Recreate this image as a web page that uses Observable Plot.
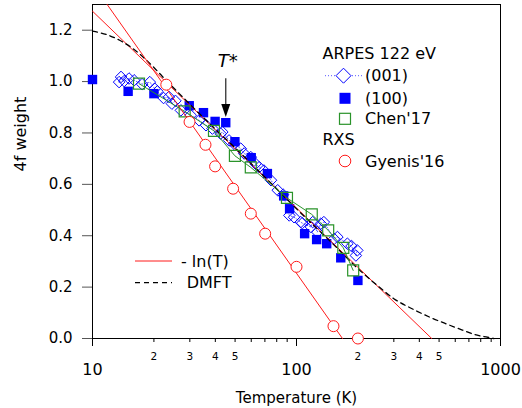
<!DOCTYPE html>
<html><head><meta charset="utf-8">
<script src="https://cdn.jsdelivr.net/npm/d3@7"></script>
<script src="https://cdn.jsdelivr.net/npm/@observablehq/plot@0.6"></script>
<style>body{margin:0;background:#fff;} svg{display:block}</style>
</head><body><div id="chart"></div>
<script>
const FONT = "DejaVu Sans, Verdana, sans-serif";

// ARPES 122 eV (001) – open diamonds
const a001T = [13.5,13.8,14.3,15.1,16.0,17.5,19.1,20.2,20.8,22.3,23.7,24.5,25.5,27.1,30.3,33.3,36,38.7,42.5,43.3,46.7,49.4,53.3,55.4,59.7,63,65.6,69.2,75,80.9,86,92.2,97.3,104.9,106.7,117.7,120,126.5,131.6,136.2,152.9,158.7,177.6,186,195.5,198.6];
const a001W = [0.998,1.018,1.002,1.012,1.005,0.990,0.998,0.972,0.962,0.936,0.940,0.914,0.925,0.888,0.869,0.849,0.830,0.817,0.797,0.804,0.771,0.758,0.739,0.720,0.706,0.680,0.667,0.654,0.616,0.577,0.560,0.479,0.472,0.453,0.449,0.434,0.453,0.414,0.447,0.453,0.388,0.395,0.369,0.360,0.323,0.343];
// ARPES 122 eV (100) – filled squares
const a100T = [10.0,14.95,20.0,29.8,35.0,39.9,45.0,49.9,60.0,72.0,86.5,92.5,109.6,125.5,140.6,164.8,200];
const a100W = [1.008,0.962,0.953,0.906,0.879,0.845,0.840,0.766,0.704,0.642,0.555,0.505,0.408,0.385,0.369,0.314,0.226];
// Chen'17 – open green squares
const chenT = [16.9,28.3,39.4,49.9,59.7,89.8,118.8,143,169.6,189.6];
const chenW = [0.992,0.884,0.808,0.711,0.666,0.547,0.483,0.421,0.353,0.265];
// RXS Gyenis'16 – open red circles
const gyeT = [23.0,29.9,35.8,39.9,48.9,59.7,70.2,100,151.8,200];
const gyeW = [0.988,0.843,0.754,0.670,0.583,0.486,0.408,0.279,0.048,0.0];
// -ln(T) fit lines (end points)
const lnFitAT = [10, 460];   const lnFitAW = [1.274, 0];
const lnFitBT = [11.8, 168]; const lnFitBW = [1.3, 0];
// DMFT curve
const dmftT = [10,12,14,16,18,20,22,25,30,40,50,70,100,150,200,250,300,377,450,550,650,742,850,927];
const dmftW = [1.196,1.18,1.155,1.125,1.09,1.055,1.02,0.975,0.912,0.815,0.742,0.628,0.505,0.37,0.272,0.205,0.155,0.112,0.083,0.055,0.033,0.016,0.006,0.0];
// T* annotation
const tStar = [{T: 45, from: 1.013, to: 0.862, labelT: 46, labelW: 1.055, text: "T*"}];

// ticks
const yTicks = [0, 0.2, 0.4, 0.6, 0.8, 1.0, 1.2];
const yTickLabels = ["0.0","0.2","0.4","0.6","0.8","1.0","1.2"];
const xMajorTicks = [10, 100, 1000];
const xMajorLabels = ["10","100","1000"];
const xMinorTicks = [20,30,40,50,60,70,80,90,200,300,400,500,600,700,800,900];
const xMinorLabels = ["2","3","4","5","6","7","","","2","3","4","5","6","7","",""];

const rows = (T, W) => T.map((t, i) => ({T: t, w: W[i]}));
const yMap = new Map(yTicks.map((t, i) => [t, yTickLabels[i]]));
const xMajMap = new Map(xMajorTicks.map((t, i) => [t, xMajorLabels[i]]));
const xMinMap = new Map(xMinorTicks.map((t, i) => [t, xMinorLabels[i]]));

const arrowHead = {draw(ctx) { ctx.moveTo(0, 0); ctx.lineTo(-4.5, -13); ctx.lineTo(4.5, -13); ctx.closePath(); }};

const BLUE = "#0000ff", GREEN = "#2a932a", RED = "#ff1a1a";

const svg = Plot.plot({
  width: 522, height: 408,
  marginLeft: 92, marginRight: 22, marginTop: 4, marginBottom: 70,
  style: {fontFamily: FONT, background: "white", overflow: "visible"},
  x: {type: "log", domain: [10, 1000], axis: null},
  y: {domain: [0, 1.3], axis: null},
  marks: [
    Plot.axisY({ticks: yTicks, tickFormat: d => yMap.get(d), tickSize: 10, tickPadding: 10, fontSize: 15, stroke: "#555", label: null}),
    Plot.axisX({ticks: xMajorTicks, tickFormat: d => xMajMap.get(d), tickSize: 8, tickPadding: 17, fontSize: 16, label: null}),
    Plot.axisX({ticks: xMinorTicks, tickFormat: d => xMinMap.get(d), tickSize: 4, tickPadding: 10, fontSize: 10.5, label: null}),
    Plot.frame({stroke: "black"}),
    Plot.line(rows(a001T, a001W), {x: "T", y: "w", stroke: "#5555ff", strokeWidth: 1, strokeDasharray: "1,2"}),
    Plot.dot(rows(a100T, a100W), {x: "T", y: "w", symbol: "square", fill: BLUE, r: 5.3}),
    Plot.dot(rows(a001T, a001W), {x: "T", y: "w", symbol: "diamond2", stroke: BLUE, fill: "none", r: 5.2, strokeWidth: 1}),
    Plot.line(rows(lnFitAT, lnFitAW), {x: "T", y: "w", stroke: RED, strokeWidth: 1}),
    Plot.line(rows(dmftT, dmftW), {x: "T", y: "w", stroke: "black", strokeWidth: 1.3, strokeDasharray: "5,4", curve: "monotone-x"}),
    Plot.line(rows(chenT, chenW), {x: "T", y: "w", stroke: GREEN, strokeWidth: 1}),
    Plot.dot(rows(chenT, chenW), {x: "T", y: "w", symbol: "square", stroke: GREEN, fill: "none", r: 6.2, strokeWidth: 1.2}),
    Plot.line(rows(lnFitBT, lnFitBW), {x: "T", y: "w", stroke: RED, strokeWidth: 1}),
    Plot.dot(rows(gyeT, gyeW), {x: "T", y: "w", symbol: "circle", stroke: RED, fill: "white", r: 5.5, strokeWidth: 1}),
    Plot.link(tStar, {x1: "T", x2: "T", y1: "from", y2: d => d.to + 0.04, stroke: "#333", strokeWidth: 1.3}),
    Plot.dot(tStar, {x: "T", y: "to", symbol: arrowHead, fill: "black", stroke: "none"}),
    Plot.text(tStar, {x: "labelT", y: "labelW", text: "text", fontStyle: "italic", fontSize: 18, lineAnchor: "bottom", fill: "black"}),
    Plot.text(["4f weight"], {text: d => d, frameAnchor: "left", dx: -72, rotate: -90, fontSize: 16, fill: "black"}),
    Plot.text(["Temperature (K)"], {text: d => d, frameAnchor: "bottom", dy: 64, lineAnchor: "bottom", fontSize: 15, fill: "black"})
  ]
});

// Legends
const L = d3.select(svg).append("g").attr("font-family", FONT).attr("font-size", 16).attr("fill", "black");
const txt = (x, y, s) => L.append("text").attr("x", x).attr("y", y).attr("text-anchor", "start").attr("fill", "black").text(s);

txt(322.5, 59, "ARPES 122 eV");
L.append("line").attr("x1", 325).attr("x2", 362).attr("y1", 75.7).attr("y2", 75.7).attr("stroke", "#5555ff").attr("stroke-dasharray", "1,2");
L.append("path").attr("transform", "translate(343.5,75.7)").attr("d", "M0,-7.5L7.5,0L0,7.5L-7.5,0Z").attr("fill", "white").attr("stroke", BLUE);
txt(365, 81, "(001)");
L.append("rect").attr("x", 339.5).attr("y", 92.8).attr("width", 11).attr("height", 11).attr("fill", BLUE);
txt(365, 104, "(100)");
L.append("rect").attr("x", 339.5).attr("y", 113.3).attr("width", 11).attr("height", 11).attr("fill", "none").attr("stroke", GREEN).attr("stroke-width", 1.2);
txt(365, 124.3, "Chen'17");
txt(322.5, 145, "RXS");
L.append("circle").attr("cx", 345).attr("cy", 161).attr("r", 5.8).attr("fill", "none").attr("stroke", RED);
txt(365, 166.5, "Gyenis'16");

L.append("line").attr("x1", 135).attr("x2", 172).attr("y1", 261).attr("y2", 261).attr("stroke", RED);
txt(181, 266.7, "- ln(T)");
L.append("line").attr("x1", 135).attr("x2", 172).attr("y1", 282.7).attr("y2", 282.7).attr("stroke", "black").attr("stroke-width", 1.3).attr("stroke-dasharray", "5,4");
txt(186.7, 287.7, "DMFT");

document.getElementById("chart").appendChild(svg);
</script></body></html>
